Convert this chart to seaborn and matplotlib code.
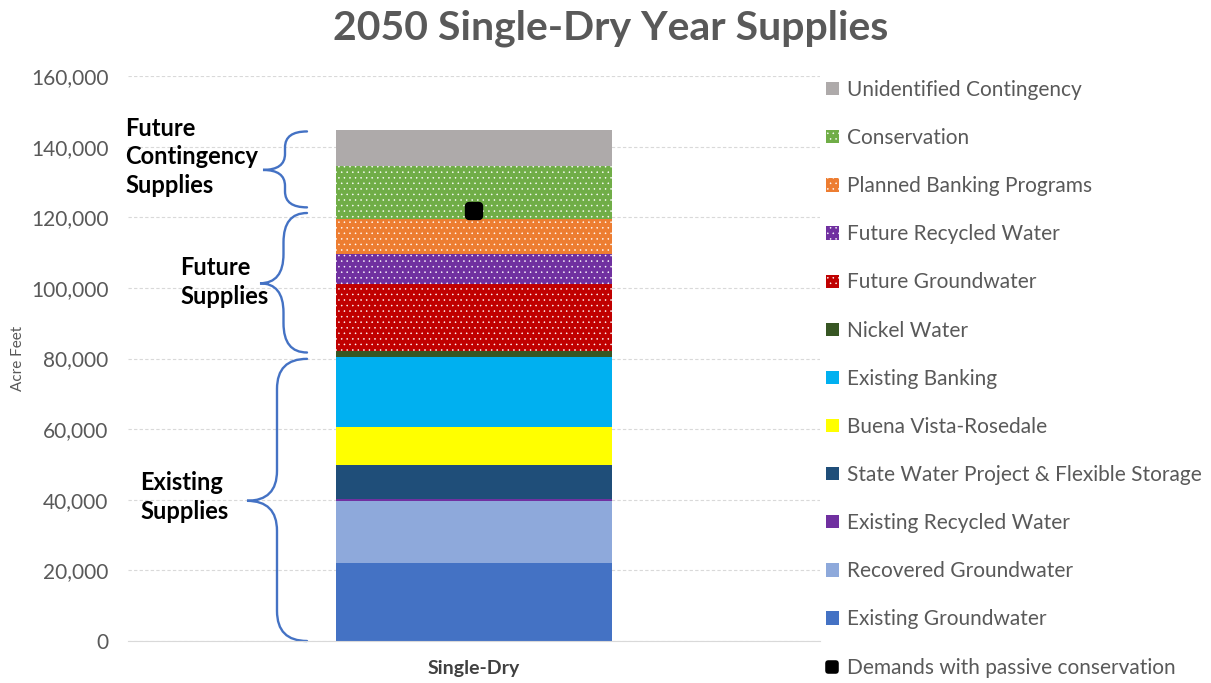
import matplotlib
matplotlib.use("Agg")
import matplotlib.pyplot as plt
import seaborn as sns
import numpy as np
from matplotlib.patches import Patch, PathPatch
from matplotlib.path import Path
from matplotlib.lines import Line2D
from matplotlib.markers import MarkerStyle

# data, bottom to top of the stack
category = "Single-Dry"
sources = [
    "Existing Groundwater",
    "Recovered Groundwater",
    "Existing Recycled Water",
    "State Water Project & Flexible Storage",
    "Buena Vista-Rosedale",
    "Existing Banking",
    "Nickel Water",
    "Future Groundwater",
    "Future Recycled Water",
    "Planned Banking Programs",
    "Conservation",
    "Unidentified Contingency",
]
supply_af = [22000, 17600, 500, 9600, 11000, 19800, 1700, 18900, 8500, 9900, 15000, 10200]
demand_label = "Demands with passive conservation"
demand_af = [121900]

colors = ["#4472C4", "#8EA9DB", "#7030A0", "#1F4E79", "#FFFF00", "#00B0F0",
          "#375623", "#C00000", "#7030A0", "#ED7D31", "#70AD47", "#AEAAAA"]
dotted = [False, False, False, False, False, False, False, True, True, True, True, False]

# bracket groups: label, top, tip, bottom (acre feet)
groups = ["Future\nContingency\nSupplies", "Future\nSupplies", "Existing\nSupplies"]
brace_top = [144300, 121200, 79900]
brace_mid = [133400, 101300, 39700]
brace_bot = [122800, 81700, 0]

sns.set_style("white")
plt.rcParams["font.family"] = ["Lato", "DejaVu Sans"]
plt.rcParams["hatch.linewidth"] = 0.35

W, H = 1211, 683
fig = plt.figure(figsize=(W / 100, H / 100), dpi=100)
ax = fig.add_axes([128 / W, 1 - 641 / H, (820 - 128) / W, (641 - 76) / H])

gray = "#595959"
hatch = "..."
bottom = 0
for name, val, col, dot in zip(sources, supply_af, colors, dotted):
    sns.barplot(x=[category], y=[val], bottom=bottom, color=col, saturation=1,
                width=0.4, ax=ax, linewidth=0, edgecolor="white" if dot else col,
                hatch=hatch if dot else None)
    bottom += val

ax.plot([0], demand_af, linestyle="none", color="black",
        marker=MarkerStyle("s", joinstyle="round"), markersize=7, markeredgewidth=6)

ax.set_xlim(-0.5, 0.5)
ax.set_ylim(0, 160000)
ax.set_yticks(np.arange(0, 160001, 20000))
ax.set_yticklabels([f"{v:,}" for v in range(0, 160001, 20000)], color=gray, fontsize=15)
ax.tick_params(axis="y", length=0, pad=14)
ax.tick_params(axis="x", length=0, pad=14)
for lab in ax.get_xticklabels():
    lab.set_fontweight("bold")
    lab.set_fontsize(14)
    lab.set_color("#404040")
ax.grid(axis="y", linestyle=(0, (3, 2)), color="#D9D9D9", linewidth=0.8)
ax.set_axisbelow(True)
for s in ["top", "right", "left"]:
    ax.spines[s].set_visible(False)
ax.spines["bottom"].set_color("#D9D9D9")
ax.set_xlabel("")
ax.set_ylabel("")
fig.text(18 / W, 1 - 358 / H, "Acre Feet", rotation=90, ha="center", va="center",
         color=gray, fontsize=11)

fig.text(611 / W, 1 - 28 / H, "2050 Single-Dry Year Supplies", ha="center", va="center",
         fontsize=29.5, fontweight="bold", color=gray)

# braces
def brace(y_top, y_mid, y_bot, x_right, x_tip, r):
    xm = (x_right + x_tip) / 2
    verts = [(x_right, y_top), (xm, y_top), (xm, y_top - r),
             (xm, y_mid + r), (xm, y_mid), (x_tip, y_mid),
             (xm, y_mid), (xm, y_mid - r),
             (xm, y_bot + r), (xm, y_bot), (x_right, y_bot)]
    codes = [Path.MOVETO, Path.CURVE3, Path.CURVE3,
             Path.LINETO, Path.CURVE3, Path.CURVE3,
             Path.CURVE3, Path.CURVE3,
             Path.LINETO, Path.CURVE3, Path.CURVE3]
    return PathPatch(Path(verts, codes), facecolor="none", edgecolor="#4472C4",
                     linewidth=1.7, clip_on=False, capstyle="round")

tips = [263, 260, 247]
for yt, ym, yb, tip in zip(brace_top, brace_mid, brace_bot, tips):
    r = min(0.42 * (yt - yb) / 2, 8500)
    ax.add_patch(brace(yt, ym, yb, -0.5 + (307 - 128) / 692, -0.5 + (tip - 128) / 692, r))

text_pos = [(125, 157), (180, 282), (140, 497)]
for g, (px, py) in zip(groups, text_pos):
    fig.text(px / W, 1 - py / H, g, ha="left", va="center", fontsize=17,
             fontweight="bold", color="black", linespacing=1.3)

# legend, top entry first
handles = []
for name, col, dot in zip(sources[::-1], colors[::-1], dotted[::-1]):
    handles.append(Patch(facecolor=col, edgecolor="white" if dot else col, linewidth=0,
                         hatch=hatch if dot else None, label=name))
handles.append(Line2D([], [], linestyle="none", color="black",
                      marker=MarkerStyle("s", joinstyle="round"), markersize=6,
                      markeredgewidth=4, label=demand_label))
leg = fig.legend(handles=handles, loc="upper left", bbox_to_anchor=(826 / W, 1 - 80 / H),
                 frameon=False, fontsize=15, handlelength=0.6, handleheight=0.6,
                 handletextpad=0.4, labelspacing=1.35, borderaxespad=0, borderpad=0)
for t in leg.get_texts():
    t.set_color(gray)

fig.savefig("out.png", dpi=100)
